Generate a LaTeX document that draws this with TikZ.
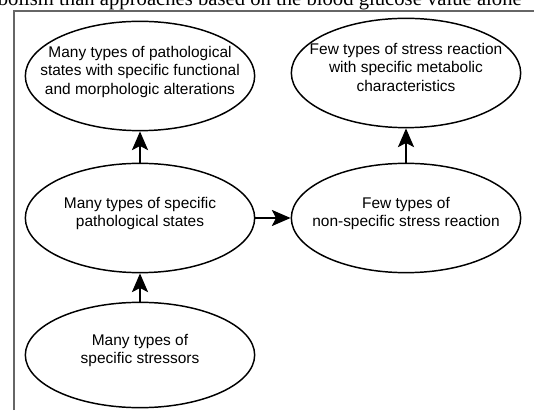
\documentclass[tikz,border=0pt]{standalone}
\usepackage{fontspec}
\setmainfont{Liberation Sans}
\newfontfamily\captionserif{Liberation Serif}
\usetikzlibrary{shapes.geometric,arrows.meta}

% lines of a state, kept from sizing the ellipse
\newcommand{\statelines}[1]{\makebox[0pt]{\smash{\begin{tabular}{@{}c@{}}#1\end{tabular}}}}

\tikzset{
  state/.style={draw, ellipse, line width=1.1pt, minimum width=172pt, minimum height=82pt,
    inner sep=0pt, font=\fontsize{11.6}{13.9}\selectfont},
  flow/.style={line width=1.6pt, -{Stealth[length=14pt, width=12pt, inset=3pt]}},
  frame/.style={black!60, line width=1.1pt}
}

\begin{document}
\begin{tikzpicture}[x=0.75pt, y=0.75pt]
    \path[use as bounding box, clip] (0,0) rectangle (534,410);

    % text of the page above the figure, cut off
    \node[anchor=base east, inner sep=0pt, font=\captionserif\fontsize{15.5}{17}\selectfont] (cut) at (522,404.5)
      {bolism than approaches based on the blood glucose value alone};

    % figure frame
    \coordinate (fbl) at (14,0);
    \coordinate (ftl) at (14,399);
    \coordinate (ftr) at (534,399);
    \draw[frame] (fbl) -- (ftl) -- (ftr);

    \node[state] (patho) at (140,334) {\statelines{Many types of pathological\\states with specific functional\\and morphologic alterations}};
    \node[state] (react) at (406,337) {\statelines{Few types of stress reaction\\with specific metabolic\\characteristics}};
    \node[state] (states) at (140,192) {\statelines{Many types of specific\\pathological states}};
    \node[state] (stress) at (406,192) {\statelines{Few types of\\non-specific stress reaction}};
    \node[state, minimum height=79pt] (stressors) at (140,55) {\statelines{Many types of\\specific stressors}};

    \draw[flow] (stressors) -- (states);
    \draw[flow] (states) -- (patho);
    \draw[flow] (states) -- (stress);
    \draw[flow] (stress) -- (react);
\end{tikzpicture}
\end{document}
